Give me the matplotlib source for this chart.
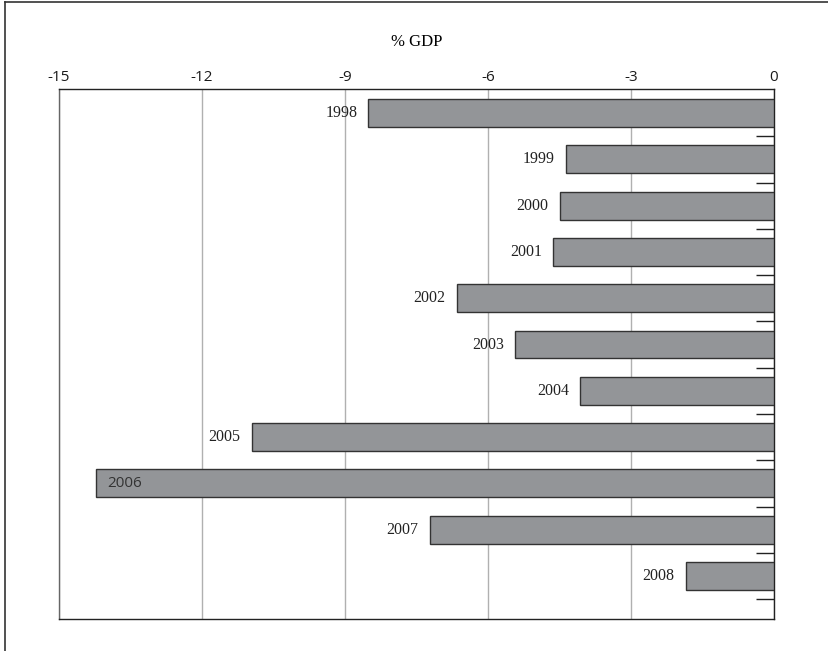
import matplotlib.pyplot as plt
from matplotlib.lines import Line2D

# Current account balance, % GDP
years = ['1998', '1999', '2000', '2001', '2002', '2003',
         '2004', '2005', '2006', '2007', '2008']
balance = [-8.51, -4.36, -4.50, -4.63, -6.66, -5.43,
           -4.06, -10.96, -14.22, -7.22, -1.85]
x_ticks = [-15, -12, -9, -6, -3, 0]
x_tick_labels = ['-15', '-12', '-9', '-6', '-3', '0']
inside_label = '2006'

fig = plt.figure(figsize=(8.29, 6.51), dpi=100)
ax = fig.add_axes([59 / 829, 1 - 619 / 651, 715 / 829, 530 / 651])

pos = list(range(len(years)))
ax.barh(pos, balance, height=0.6, color='#939598',
        edgecolor='#333333', linewidth=1.0, zorder=3)

for p, v, yr in zip(pos, balance, years):
    if yr == inside_label:
        ax.annotate(yr, (v, p), xytext=(8, 0), textcoords='offset points',
                    ha='left', va='center', fontsize=11,
                    family='Open Sans', color='#333333', zorder=4)
    else:
        ax.annotate(yr, (v, p), xytext=(-8, 0), textcoords='offset points',
                    ha='right', va='center', fontsize=11.5,
                    family='Liberation Serif', color='#222222', zorder=4)

ax.set_xlim(-15, 0)
ax.set_ylim(10.93, -0.52)

ax.xaxis.tick_top()
ax.xaxis.set_label_position('top')
ax.set_xticks(x_ticks)
ax.set_xticklabels(x_tick_labels, fontsize=11, family='Open Sans', color='#1a1a1a')
ax.tick_params(axis='x', length=0, pad=3)
ax.set_xlabel('% GDP', fontsize=12, family='Liberation Serif', labelpad=17)

ax.grid(axis='x', color='#b0b0b0', linewidth=1.0, zorder=0)

# boundary ticks between categories on the zero line (right spine)
ax.set_yticks([p + 0.5 for p in pos])
ax.set_yticklabels([])
ax.yaxis.tick_right()
ax.tick_params(axis='y', direction='in', length=13, width=1.0, color='#222222')

for side in ['top', 'bottom', 'right']:
    ax.spines[side].set_color('#222222')
    ax.spines[side].set_linewidth(1.0)
ax.spines['left'].set_color('#666666')
ax.spines['left'].set_linewidth(1.0)

# outer frame (left and top edges visible)
fig.add_artist(Line2D([5 / 829, 5 / 829], [0, 1 - 2 / 651],
                      transform=fig.transFigure, color='#333333', linewidth=1.2))
fig.add_artist(Line2D([5 / 829, 1], [1 - 2 / 651, 1 - 2 / 651],
                      transform=fig.transFigure, color='#333333', linewidth=1.2))

fig.savefig('out.png', dpi=100)
